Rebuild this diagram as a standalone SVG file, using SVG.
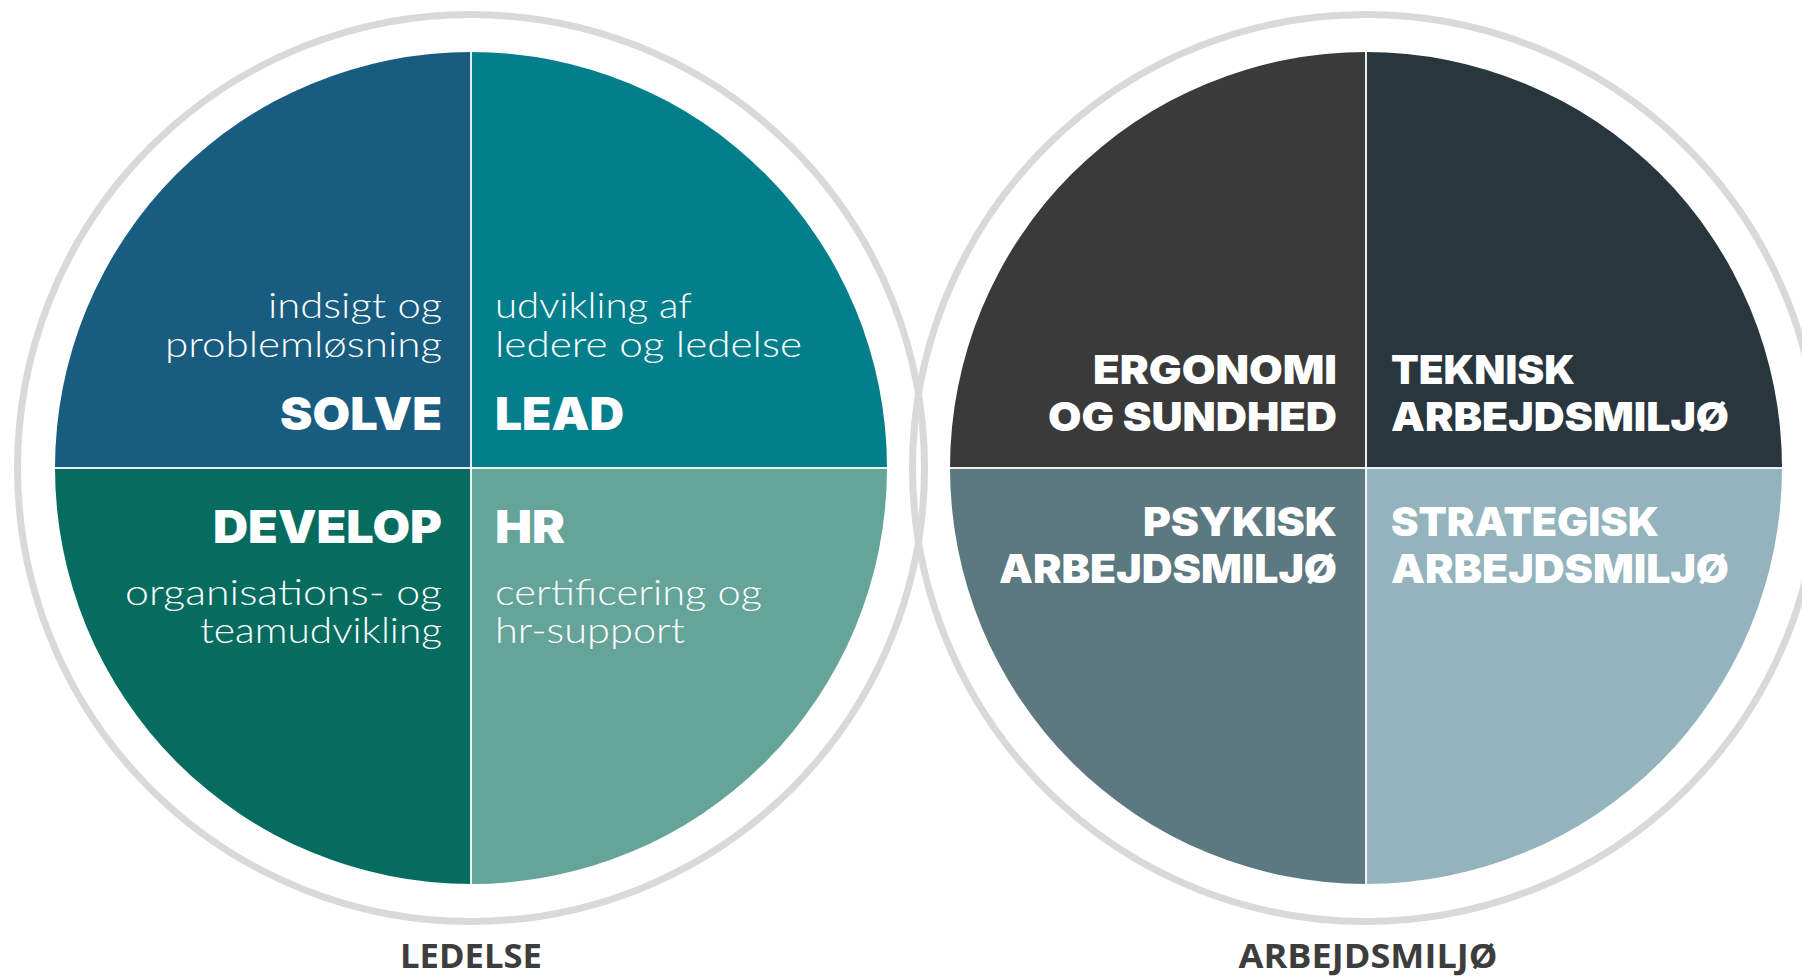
<svg xmlns="http://www.w3.org/2000/svg" width="1802" height="976" viewBox="0 0 1802 976">
<style>
.ring{fill:none;stroke:#d9d9d9;stroke-width:7}
.div{stroke:#ffffff;stroke-width:2;opacity:0.9}
.thin{font-family:"Lato","Open Sans",sans-serif;font-weight:300;font-size:35px;fill:#ffffff}
.head{font-family:"Inter","Lato",sans-serif;font-weight:900;font-size:45px;fill:#ffffff}
.head2{font-family:"Inter","Lato",sans-serif;font-weight:900;font-size:40px;fill:#ffffff}
.cap{font-family:"Open Sans","Liberation Sans",sans-serif;font-weight:700;font-size:34px;fill:#3d3d3d}
</style>
<rect width="1802" height="976" fill="#ffffff"/>
<g id="rings">
<circle class="ring" cx="471" cy="468" r="453.5"/>
<circle class="ring" cx="1366" cy="468" r="453.5"/>
</g>
<g id="solve">
<path d="M471,468 L55,468 A416,416 0 0 1 471,52 Z" fill="#185d7f"/>
<text class="thin" x="442" y="318" text-anchor="end" textLength="174" lengthAdjust="spacingAndGlyphs">indsigt og</text>
<text class="thin" x="442" y="357" text-anchor="end" textLength="277" lengthAdjust="spacingAndGlyphs">problemløsning</text>
<text class="head" x="442" y="430" text-anchor="end" textLength="162" lengthAdjust="spacingAndGlyphs">SOLVE</text>
</g>
<g id="lead">
<path d="M471,468 L471,52 A416,416 0 0 1 887,468 Z" fill="#037f8c"/>
<text class="thin" x="495" y="318" textLength="197" lengthAdjust="spacingAndGlyphs">udvikling af</text>
<text class="thin" x="495" y="357" textLength="307" lengthAdjust="spacingAndGlyphs">ledere og ledelse</text>
<text class="head" x="495" y="430" textLength="129" lengthAdjust="spacingAndGlyphs">LEAD</text>
</g>
<g id="develop">
<path d="M471,468 L471,884 A416,416 0 0 1 55,468 Z" fill="#056c5f"/>
<text class="head" x="442" y="543" text-anchor="end" textLength="229" lengthAdjust="spacingAndGlyphs">DEVELOP</text>
<text class="thin" x="442" y="605" text-anchor="end" textLength="317" lengthAdjust="spacingAndGlyphs">organisations- og</text>
<text class="thin" x="442" y="643" text-anchor="end" textLength="242" lengthAdjust="spacingAndGlyphs">teamudvikling</text>
</g>
<g id="hr">
<path d="M471,468 L887,468 A416,416 0 0 1 471,884 Z" fill="#65a498"/>
<text class="head" x="495" y="543" textLength="70" lengthAdjust="spacingAndGlyphs">HR</text>
<text class="thin" x="495" y="605" textLength="267" lengthAdjust="spacingAndGlyphs">certificering og</text>
<text class="thin" x="495" y="643" textLength="190" lengthAdjust="spacingAndGlyphs">hr-support</text>
</g>
<g id="ergonomi">
<path d="M1366,468 L950,468 A416,416 0 0 1 1366,52 Z" fill="#3a3a3b"/>
<text class="head2" x="1337" y="384" text-anchor="end" textLength="244" lengthAdjust="spacingAndGlyphs">ERGONOMI</text>
<text class="head2" x="1337" y="431" text-anchor="end" textLength="289" lengthAdjust="spacingAndGlyphs">OG SUNDHED</text>
</g>
<g id="teknisk">
<path d="M1366,468 L1366,52 A416,416 0 0 1 1782,468 Z" fill="#29363e"/>
<text class="head2" x="1391" y="384" textLength="184" lengthAdjust="spacingAndGlyphs">TEKNISK</text>
<text class="head2" x="1391" y="431" textLength="338" lengthAdjust="spacingAndGlyphs">ARBEJDSMILJØ</text>
</g>
<g id="psykisk">
<path d="M1366,468 L1366,884 A416,416 0 0 1 950,468 Z" fill="#5c7880"/>
<text class="head2" x="1337" y="536" text-anchor="end" textLength="194" lengthAdjust="spacingAndGlyphs">PSYKISK</text>
<text class="head2" x="1337" y="583" text-anchor="end" textLength="338" lengthAdjust="spacingAndGlyphs">ARBEJDSMILJØ</text>
</g>
<g id="strategisk">
<path d="M1366,468 L1782,468 A416,416 0 0 1 1366,884 Z" fill="#93b3bd"/>
<text class="head2" x="1391" y="536" textLength="268" lengthAdjust="spacingAndGlyphs">STRATEGISK</text>
<text class="head2" x="1391" y="583" textLength="338" lengthAdjust="spacingAndGlyphs">ARBEJDSMILJØ</text>
</g>
<g id="connectors">
<line class="div" x1="471" y1="52" x2="471" y2="884"/>
<line class="div" x1="55" y1="468" x2="887" y2="468"/>
<line class="div" x1="1366" y1="52" x2="1366" y2="884"/>
<line class="div" x1="950" y1="468" x2="1782" y2="468"/>
</g>
<g id="labels">
<text class="cap" x="471" y="968" text-anchor="middle" textLength="142" lengthAdjust="spacingAndGlyphs">LEDELSE</text>
<text class="cap" x="1368" y="968" text-anchor="middle" textLength="259" lengthAdjust="spacingAndGlyphs">ARBEJDSMILJØ</text>
</g>
</svg>
